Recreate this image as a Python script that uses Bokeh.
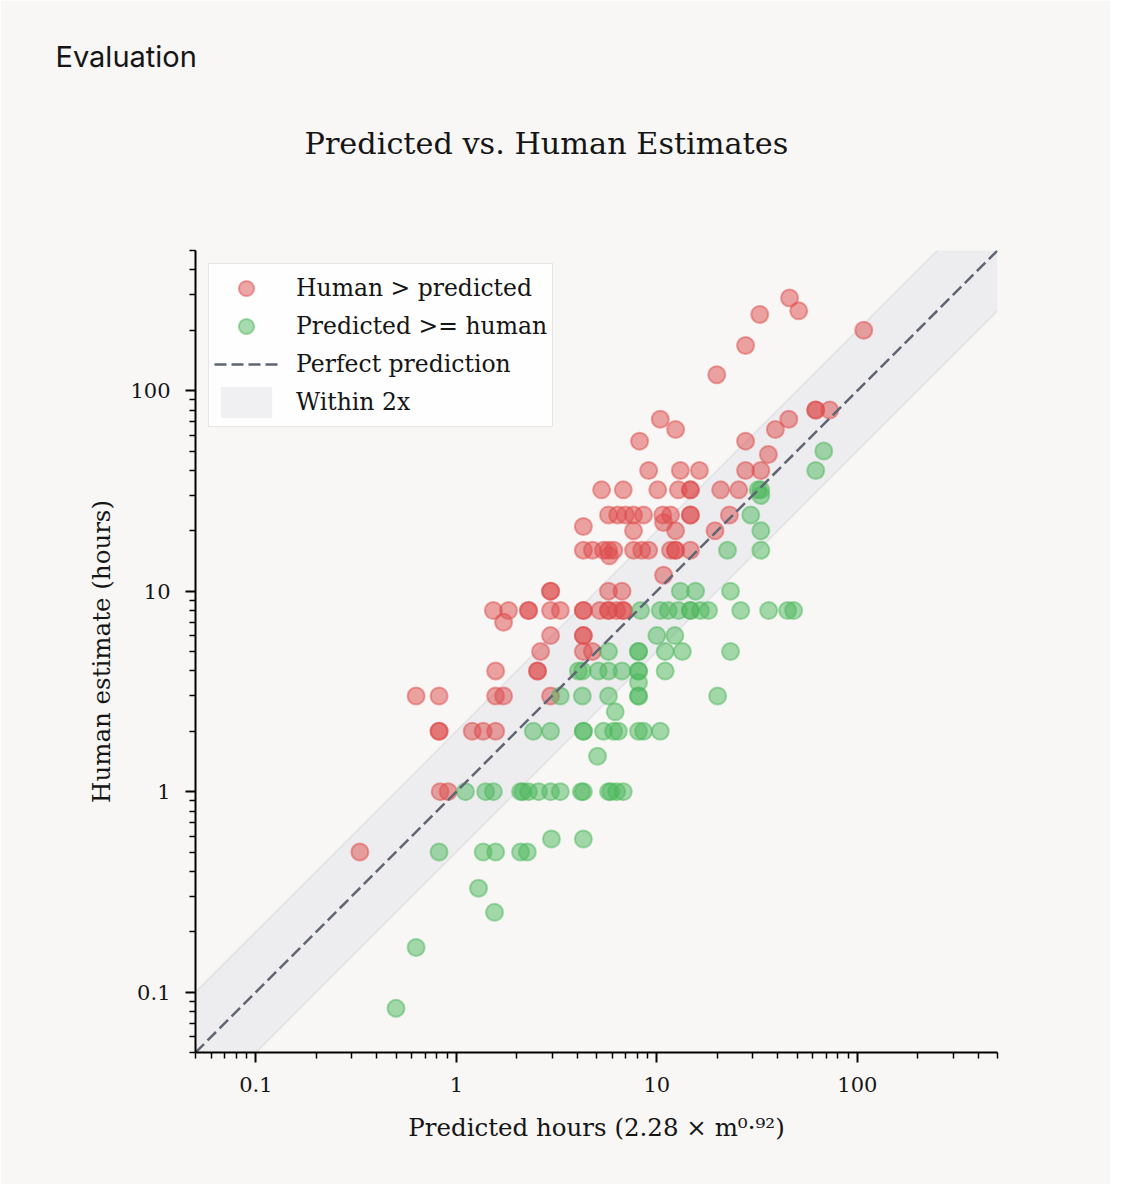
import math
from bokeh.plotting import figure
from bokeh.models import (Range1d, FixedTicker, CustomJSTickFormatter, Title,
                          Legend, LegendItem, ColumnDataSource)
from bokeh.embed import file_html
from bokeh.resources import INLINE

# ---------------- data ----------------
# Human > predicted (red)
red_pred = [0.33,
            0.83, 0.91,
            0.82, 0.82, 1.2, 1.36, 1.57,
            0.63, 0.82, 1.57, 1.72, 2.95,
            1.57, 2.54, 2.54,
            2.63, 4.3, 4.77,
            2.95, 4.3, 4.3,
            1.72,
            1.53, 1.82, 2.29, 2.29, 2.95, 3.3, 4.3, 4.3, 5.2, 5.74, 5.74, 6.3, 6.8, 6.8,
            2.95, 2.95, 5.74, 6.7,
            10.8,
            5.8,
            4.3, 4.77, 5.42, 5.74, 6.1, 7.65, 8.4, 9.1, 11.7, 12.4, 12.4, 14.7,
            7.65, 12.4, 19.5,
            4.3,
            10.8,
            5.74, 6.37, 6.97, 7.65, 8.58, 10.7, 11.7, 14.7, 14.7, 23.0,
            5.3, 6.8, 10.1, 12.8, 14.7, 14.7, 20.8, 25.6,
            9.1, 13.1, 16.3, 27.7, 33.0,
            36.0,
            8.2, 27.7,
            12.4, 39.0,
            10.4, 45.5,
            62.0, 62.0, 72.8,
            19.9, 27.7, 32.6, 45.9, 51.0, 107.6]
red_human = [0.5,
             1, 1,
             2, 2, 2, 2, 2,
             3, 3, 3, 3, 3,
             4, 4, 4,
             5, 5, 5,
             6, 6, 6,
             7,
             8, 8, 8, 8, 8, 8, 8, 8, 8, 8, 8, 8, 8, 8,
             10, 10, 10, 10,
             12,
             15,
             16, 16, 16, 16, 16, 16, 16, 16, 16, 16, 16, 16,
             20, 20, 20,
             21,
             22,
             24, 24, 24, 24, 24, 24, 24, 24, 24, 24,
             32, 32, 32, 32, 32, 32, 32, 32,
             40, 40, 40, 40, 40,
             48,
             56, 56,
             64, 64,
             72, 72,
             80, 80, 80,
             120, 168, 240, 290, 250, 200]

# Predicted >= human (green)
green_pred = [0.5,
              0.63,
              1.55,
              1.29,
              0.82, 1.36, 1.57, 2.09, 2.26,
              2.98, 4.3,
              1.11, 1.40, 1.53, 2.09, 2.15, 2.29, 2.57, 2.95, 3.3, 4.2, 4.3, 5.74, 5.9, 6.3, 6.8,
              5.06,
              2.42, 2.95, 4.3, 4.3, 5.42, 6.08, 6.43, 8.1, 8.58, 10.4,
              6.2,
              3.3, 4.25, 5.74, 8.1, 8.1, 20.1,
              8.1,
              4.06, 4.25, 5.1, 5.74, 6.7, 8.1, 8.1, 11.0,
              5.74, 8.1, 8.1, 11.0, 13.4, 23.3,
              10.0, 12.3,
              8.3, 10.4, 11.4, 12.8, 14.7, 14.7, 16.5, 18.1, 26.2, 36.1, 44.9, 48.1,
              13.1, 15.6, 23.3,
              22.5, 33.0,
              33.0,
              29.4,
              33.0,
              32.0, 33.0,
              62.0,
              68.0]
green_human = [0.083,
               0.167,
               0.25,
               0.33,
               0.5, 0.5, 0.5, 0.5, 0.5,
               0.58, 0.58,
               1, 1, 1, 1, 1, 1, 1, 1, 1, 1, 1, 1, 1, 1, 1,
               1.5,
               2, 2, 2, 2, 2, 2, 2, 2, 2, 2,
               2.5,
               3, 3, 3, 3, 3, 3,
               3.5,
               4, 4, 4, 4, 4, 4, 4, 4,
               5, 5, 5, 5, 5, 5,
               6, 6,
               8, 8, 8, 8, 8, 8, 8, 8, 8, 8, 8, 8,
               10, 10, 10,
               16, 16,
               20,
               24,
               30,
               32, 32,
               40,
               50]

axis_limits = [0.05, 500]
major_ticks = [0.1, 1, 10, 100]
minor_ticks = [round(m * 10.0 ** e, 6) for e in range(-2, 3) for m in range(2, 10)
               if axis_limits[0] <= round(m * 10.0 ** e, 6) <= axis_limits[1]]

title_text = "Predicted vs. Human Estimates"
header_text = "Evaluation"
xlabel_text = "Predicted hours (2.28 \u00d7 m\u2070\u00b7\u2079\u00b2)"
ylabel_text = "Human estimate (hours)"

# ---------------- styling ----------------
BG = "#f8f7f5"
RED = "#dd4b4b"
GREEN = "#4cb85c"
SERIF = "DejaVu Serif"
INK = "#151515"

FL, FT, FR, FB = 195, 250, 997, 1052   # frame edges in picture pixels

p = figure(x_axis_type="log", y_axis_type="log",
           x_range=Range1d(*axis_limits), y_range=Range1d(*axis_limits),
           frame_width=FR - FL, frame_height=FB - FT,
           min_border_left=FL, min_border_right=1110 - FR,
           min_border_top=FT, min_border_bottom=1184 - FB,
           output_backend="svg", toolbar_location=None,
           background_fill_color=BG, border_fill_color=BG,
           outline_line_color=None)
p.xgrid.visible = False
p.ygrid.visible = False

fmt = CustomJSTickFormatter(code="return String(tick);")
for ax in (p.xaxis, p.yaxis):
    ax.ticker = FixedTicker(ticks=major_ticks, minor_ticks=minor_ticks)
    ax.formatter = fmt
    ax.axis_line_color = "black"
    ax.axis_line_width = 2
    ax.major_tick_line_color = "black"
    ax.major_tick_line_width = 2
    ax.major_tick_in = 0
    ax.major_tick_out = 10
    ax.minor_tick_line_color = "black"
    ax.minor_tick_line_width = 1.5
    ax.minor_tick_in = 0
    ax.minor_tick_out = 6
    ax.major_label_text_font = SERIF
    ax.major_label_text_font_size = "21px"
    ax.major_label_text_color = INK
    ax.axis_label_text_font = SERIF
    ax.axis_label_text_font_size = "24.5px"
    ax.axis_label_text_font_style = "normal"
    ax.axis_label_text_color = INK
p.xaxis.major_label_standoff = 14
p.yaxis.major_label_standoff = 15
p.xaxis.axis_label = xlabel_text
p.xaxis.axis_label_standoff = 18
p.yaxis.axis_label = ylabel_text
p.yaxis.axis_label_standoff = 11

band_low = [v / 2 for v in axis_limits]
band_high = [v * 2 for v in axis_limits]
r_band = p.varea(x=axis_limits, y1=band_low, y2=band_high,
                 fill_color="#e3e4e8", fill_alpha=0.55)
p.line(axis_limits, band_low, line_color="#dcdde1", line_width=1.5, line_alpha=0.7)
p.line(axis_limits, band_high, line_color="#dcdde1", line_width=1.5, line_alpha=0.7)

red_src = ColumnDataSource(dict(x=red_pred, y=red_human))
green_src = ColumnDataSource(dict(x=green_pred, y=green_human))
r_red = p.scatter("x", "y", source=red_src, size=17, fill_color=RED, fill_alpha=0.5,
                  line_color=RED, line_alpha=0.5, line_width=2)
r_green = p.scatter("x", "y", source=green_src, size=17, fill_color=GREEN, fill_alpha=0.5,
                    line_color=GREEN, line_alpha=0.5, line_width=2)
r_diag = p.line(axis_limits, axis_limits, line_color="#5f6573", line_width=2.5,
                line_dash="12 5")

legend = Legend(items=[
    LegendItem(label="Human > predicted", renderers=[r_red]),
    LegendItem(label="Predicted >= human", renderers=[r_green]),
    LegendItem(label="Perfect prediction", renderers=[r_diag]),
    LegendItem(label="Within 2x", renderers=[r_band]),
], location="top_left", margin=13, padding=5, spacing=0,
    glyph_width=64, glyph_height=38, label_height=28, label_standoff=18,
    label_text_font=SERIF, label_text_font_size="23.5px", label_text_color=INK,
    background_fill_color="white", background_fill_alpha=0.85,
    border_line_color="#cccccc", border_line_width=1.5)
p.add_layout(legend)

# titles above the frame: spacer (nearest the frame), main title, then header
p.add_layout(Title(text=" ", text_font_size="1px", standoff=46), "above")
p.add_layout(Title(text=title_text, text_font=SERIF, text_font_size="30.3px",
                   text_font_style="normal", text_color=INK, align="left",
                   offset=109, standoff=82), "above")
p.title.text = header_text
p.title.text_font = "Inter"
p.title.text_font_size = "29px"
p.title.text_font_style = "normal"
p.title.text_color = INK
p.title.align = "left"
p.title.offset = 55 - FL
p.title.standoff = 18

open("out.html", "w").write(file_html(p, INLINE))
